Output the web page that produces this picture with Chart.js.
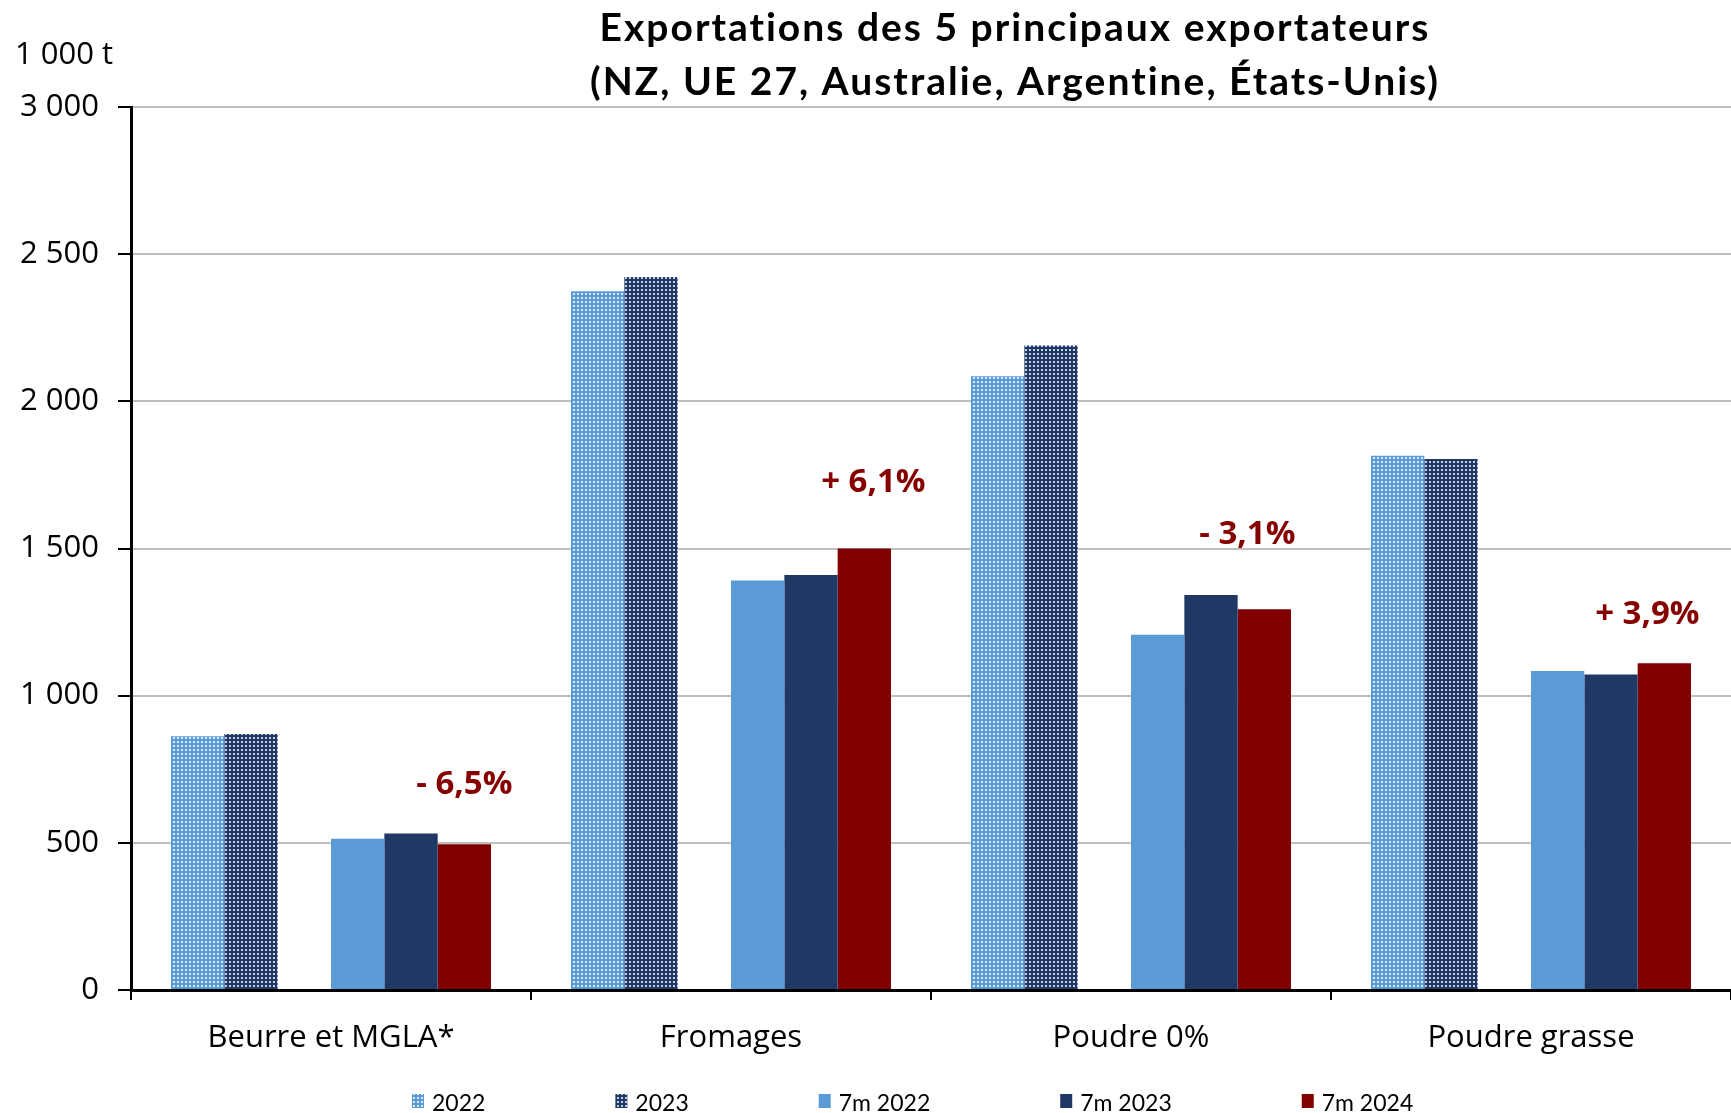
<!DOCTYPE html>
<html>
<head>
<meta charset="utf-8">
<script src="https://cdn.jsdelivr.net/npm/chart.js@4.4.1/dist/chart.umd.min.js"></script>
<style>
  html, body { margin: 0; padding: 0; background: #fff; }
  #wrap { width: 1731px; height: 1113px; }
</style>
</head>
<body>
<div id="wrap"><canvas id="chart" width="1731" height="1113"></canvas></div>
<script>
// values in 1 000 t
const categories = ['Beurre et MGLA*', 'Fromages', 'Poudre 0%', 'Poudre grasse'];
const seriesNames = ['2022', '2023', '7m 2022', '7m 2023', '7m 2024'];
const val2022 = [862, 2374, 2085, 1815];
const val2023 = [870, 2422, 2190, 1804];
const val7m2022 = [514, 1391, 1207, 1084];
const val7m2023 = [532, 1410, 1342, 1072];
const val7m2024 = [495, 1500, 1294, 1110];
const changeLabels = ['- 6,5%', '+ 6,1%', '- 3,1%', '+ 3,9%'];
const changeLabelAt = [697, 1723, 1546, 1274]; // height of the % label, in 1 000 t
const changeLabelDx = [0, 9, -17, -17];        // small nudge from the bar centre, px
const titleLines = ['Exportations des 5 principaux exportateurs', '(NZ, UE 27, Australie, Argentine, États-Unis)'];
const unitLabel = '1 000 t';

const AXIS_FONT = '"Open Sans", sans-serif';

// small dotted fill like the Excel pattern on the full-year bars
function dotPattern(base, dot) {
    const p = document.createElement('canvas');
    p.width = 4; p.height = 4;
    const g = p.getContext('2d');
    g.fillStyle = base;
    g.fillRect(0, 0, 4, 4);
    g.fillStyle = dot;
    g.fillRect(1, 1, 2, 2);
    return g.createPattern(p, 'repeat');
}

const fills = [
    dotPattern('#5b9bd5', '#dce9f6'),
    dotPattern('#1f3864', '#c5cee0'),
    '#5b9bd5',
    '#1f3864',
    '#800000'
];
const seriesData = [val2022, val2023, val7m2022, val7m2023, val7m2024];

const datasets = seriesNames.map((name, i) => ({
    label: name,
    data: seriesData[i],
    backgroundColor: fills[i],
    borderWidth: 0
}));
// empty slot between the full years and the 7-month bars
datasets.splice(2, 0, { label: '', data: categories.map(() => null), backgroundColor: 'rgba(0,0,0,0)' });

const fmt = v => String(v).replace(/\B(?=(\d{3})+(?!\d))/g, ' ');

const decor = {
    id: 'decor',
    afterDraw(chart) {
        const { ctx, scales: { y } } = chart;
        ctx.save();

        ctx.fillStyle = '#000';
        ctx.textAlign = 'center';
        ctx.textBaseline = 'alphabetic';
        ctx.font = 'bold 39px Lato, sans-serif';
        ctx.letterSpacing = '2px';
        ctx.fillText(titleLines[0], 1015, 41);
        ctx.fillText(titleLines[1], 1015, 95);
        ctx.letterSpacing = '0px';

        ctx.textAlign = 'left';
        ctx.font = '31px ' + AXIS_FONT;
        ctx.fillText(unitLabel, 15, 64);

        // % change labels above the 7m 2024 bars
        const meta = chart.getDatasetMeta(datasets.length - 1);
        ctx.fillStyle = '#860000';
        ctx.textAlign = 'center';
        ctx.textBaseline = 'middle';
        ctx.font = 'bold 33px ' + AXIS_FONT;
        changeLabels.forEach((t, i) => {
            ctx.fillText(t, meta.data[i].x + changeLabelDx[i], y.getPixelForValue(changeLabelAt[i]));
        });

        // legend along the bottom edge
        ctx.font = '23px Lato, sans-serif';
        ctx.textAlign = 'left';
        ctx.textBaseline = 'alphabetic';
        let x = 412;
        seriesNames.forEach((name, i) => {
            ctx.fillStyle = fills[i];
            ctx.fillRect(x, 1094, 12, 14);
            ctx.fillStyle = '#000';
            ctx.fillText(name, x + 20, 1111);
            x += 20 + ctx.measureText(name).width + 130;
        });

        ctx.restore();
    }
};

new Chart(document.getElementById('chart'), {
    type: 'bar',
    data: { labels: categories, datasets: datasets },
    options: {
        responsive: false,
        animation: false,
        layout: { padding: { top: 107, right: 0, left: 0, bottom: 0 } },
        datasets: { bar: { categoryPercentage: 0.8, barPercentage: 1.0 } },
        plugins: {
            legend: { display: false },
            title: { display: false },
            tooltip: { enabled: false }
        },
        scales: {
            x: {
                afterFit: s => { s.height = 123; },
                grid: {
                    offset: true,
                    drawOnChartArea: false,
                    tickLength: 10,
                    tickColor: '#000',
                    lineWidth: 2
                },
                border: { color: '#000', width: 3 },
                ticks: {
                    color: '#000',
                    font: { family: AXIS_FONT, size: 31 },
                    padding: 20,
                    maxRotation: 0,
                    autoSkip: false
                }
            },
            y: {
                min: 0,
                max: 3000,
                afterFit: s => { s.width = 131; },
                grid: {
                    color: c => c.tick && c.tick.value === 0 ? '#000' : '#bfbfbf',
                    lineWidth: 2,
                    tickLength: 13,
                    tickColor: '#000'
                },
                border: { color: '#000', width: 3 },
                ticks: {
                    stepSize: 500,
                    color: '#000',
                    font: { family: AXIS_FONT, size: 31 },
                    padding: 19,
                    callback: v => fmt(v)
                }
            }
        }
    },
    plugins: [decor]
});
</script>
</body>
</html>
